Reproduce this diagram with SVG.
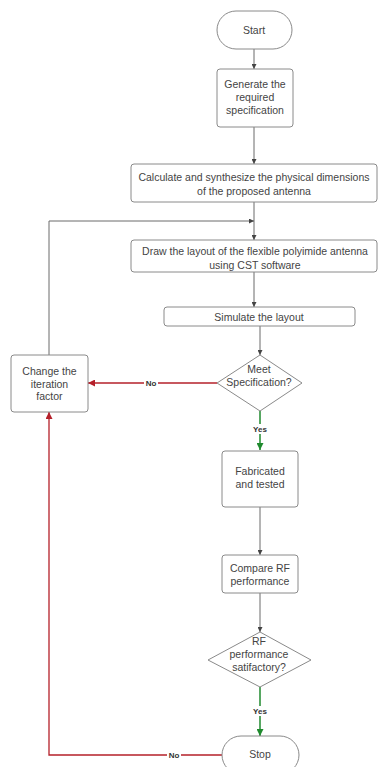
<svg xmlns="http://www.w3.org/2000/svg" width="379" height="767" viewBox="0 0 379 767">
<style>
.box{fill:#fff;stroke:#8a8a8a;stroke-width:1}
.t{font-family:"Liberation Sans",Arial,sans-serif;font-size:10.5px;fill:#444;text-anchor:middle;dominant-baseline:central}
.lbl{font-family:"Liberation Sans",Arial,sans-serif;font-size:8px;font-weight:bold;fill:#333;text-anchor:middle;dominant-baseline:central}
.g{fill:none;stroke:#6a6a6a;stroke-width:1}
.r{fill:none;stroke:#b5202a;stroke-width:1.3}
.gr{fill:none;stroke:#1f8a2e;stroke-width:1.5}
</style>
<defs>
<marker id="ag" viewBox="0 0 10 10" refX="10" refY="5" markerWidth="5" markerHeight="5" orient="auto" markerUnits="userSpaceOnUse"><path d="M0,0L10,5L0,10z" fill="#444"/></marker>
<marker id="ar" viewBox="0 0 10 10" refX="10" refY="5" markerWidth="7" markerHeight="7" orient="auto" markerUnits="userSpaceOnUse"><path d="M0,0L10,5L0,10z" fill="#b5202a"/></marker>
<marker id="agr" viewBox="0 0 10 10" refX="10" refY="5" markerWidth="7" markerHeight="7" orient="auto" markerUnits="userSpaceOnUse"><path d="M0,0L10,5L0,10z" fill="#1f8a2e"/></marker>
</defs>
<rect width="379" height="767" fill="#fff"/>
<g id="connectors">
<path class="g" d="M254,49V69" marker-end="url(#ag)"/>
<path class="g" d="M254,127V164" marker-end="url(#ag)"/>
<path class="g" d="M254,202V240" marker-end="url(#ag)"/>
<path class="g" d="M49,355V221H254" marker-end="url(#ag)"/>
<path class="g" d="M254,272V307" marker-end="url(#ag)"/>
<path class="g" d="M260,326V355" marker-end="url(#ag)"/>
<path class="r" d="M217,383H88" marker-end="url(#ar)"/>
<path class="gr" d="M260,411V450" marker-end="url(#agr)"/>
<path class="g" d="M260,507V555" marker-end="url(#ag)"/>
<path class="g" d="M260,593V632" marker-end="url(#ag)"/>
<path class="gr" d="M260,687V736" marker-end="url(#agr)"/>
<path class="r" d="M222,755H49V412" marker-end="url(#ar)"/>
<rect x="144" y="378" width="14" height="10" fill="#fff"/>
<text class="lbl" x="151" y="383">No</text>
<rect x="251" y="424" width="18" height="10" fill="#fff"/>
<text class="lbl" x="260" y="429">Yes</text>
<rect x="251" y="706" width="18" height="10" fill="#fff"/>
<text class="lbl" x="260" y="711">Yes</text>
<rect x="167" y="750" width="14" height="10" fill="#fff"/>
<text class="lbl" x="174" y="755">No</text>
</g>
<g id="start">
<rect class="box" x="217" y="11" width="75" height="38" rx="19"/>
<text class="t" x="254" y="30">Start</text>
</g>
<g id="generate">
<rect class="box" x="217" y="69" width="76" height="58" rx="3"/>
<text class="t" x="255" y="84">Generate the</text>
<text class="t" x="255" y="97">required</text>
<text class="t" x="255" y="110">specification</text>
</g>
<g id="calculate">
<rect class="box" x="131" y="164" width="246" height="38" rx="3"/>
<text class="t" x="254" y="177">Calculate and synthesize the physical dimensions</text>
<text class="t" x="254" y="191">of the proposed antenna</text>
</g>
<g id="draw">
<rect class="box" x="131" y="240" width="246" height="32" rx="3"/>
<text class="t" x="255" y="251">Draw the layout of the flexible polyimide antenna</text>
<text class="t" x="255" y="265">using CST software</text>
</g>
<g id="simulate">
<rect class="box" x="164" y="307" width="191" height="19" rx="3"/>
<text class="t" x="259" y="316.5">Simulate the layout</text>
</g>
<g id="change">
<rect class="box" x="11" y="355" width="77" height="57" rx="3"/>
<text class="t" x="49.5" y="371">Change the</text>
<text class="t" x="49.5" y="383.5">iteration</text>
<text class="t" x="49.5" y="396">factor</text>
</g>
<g id="meet">
<polygon class="box" points="260,355 302,383 260,411 217,383"/>
<text class="t" x="259" y="369">Meet</text>
<text class="t" x="259" y="382">Specification?</text>
</g>
<g id="fabricated">
<rect class="box" x="222" y="451" width="76" height="56" rx="3"/>
<text class="t" x="260" y="471">Fabricated</text>
<text class="t" x="260" y="484">and tested</text>
</g>
<g id="compare">
<rect class="box" x="222" y="555" width="76" height="38" rx="3"/>
<text class="t" x="260" y="568">Compare RF</text>
<text class="t" x="260" y="580.5">performance</text>
</g>
<g id="rf">
<polygon class="box" points="260,632 311,660 260,687 208,660"/>
<text class="t" x="259" y="641">RF</text>
<text class="t" x="259" y="654">performance</text>
<text class="t" x="259" y="666.5">satifactory?</text>
</g>
<g id="stop">
<rect class="box" x="222" y="736" width="77" height="38" rx="19"/>
<text class="t" x="260" y="754">Stop</text>
</g>
</svg>
